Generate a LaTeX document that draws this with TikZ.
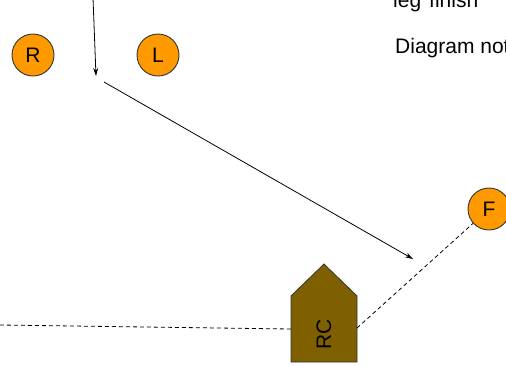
\documentclass[tikz,border=0pt]{standalone}
\usepackage{fontspec}
\setmainfont{Liberation Sans}
\usetikzlibrary{arrows.meta}
\definecolor{orng}{HTML}{FF9900}
\definecolor{brn}{HTML}{7F6000}
\tikzset{
  circ/.style={circle, draw=black!80, fill=orng, line width=0.9pt, minimum size=42pt, inner sep=0pt, font=\fontsize{21}{25}\selectfont},
  arr/.style={line width=0.8pt, -{Stealth[length=8pt,width=5pt]}},
  dsh/.style={line width=0.8pt, dash pattern=on 4pt off 3pt},
  lbl/.style={font=\fontsize{21}{25}\selectfont, inner sep=0pt}
}
\begin{document}
\begin{tikzpicture}[x=1pt,y=-1pt]
\useasboundingbox (0,0) rectangle (506,365);
\clip (0,0) rectangle (506,365);
\node[circ] (R) at (33,55) {R};
\node[circ] (L) at (158,55) {L};
\node[circ] (F) at (489,209) {F};
\coordinate (a1) at (93,-2);
\coordinate (a2) at (96,76);
\coordinate (b1) at (104,82);
\coordinate (b2) at (413,259);
\draw[arr] (a1) -- (a2);
\draw[arr] (b1) -- (b2);
\draw[fill=brn, draw=black!80, line width=0.8pt] (291,362) -- (291,296) -- (324,264) -- (357,296) -- (357,362) -- cycle;
\coordinate (rcw) at (291,329);
\coordinate (rce) at (357,328);
\node[lbl, rotate=90] (RC) at (324,334) {RC};
\coordinate (left) at (0,325);
\draw[dsh] (left) -- (rcw);
\draw[dsh] (rce) -- (F);
\node[lbl, anchor=base west] (note) at (395,53) {Diagram not to scale};
\node[lbl, anchor=base west] (leg) at (393,7) {leg\hspace{8pt}finish};
\end{tikzpicture}
\end{document}
